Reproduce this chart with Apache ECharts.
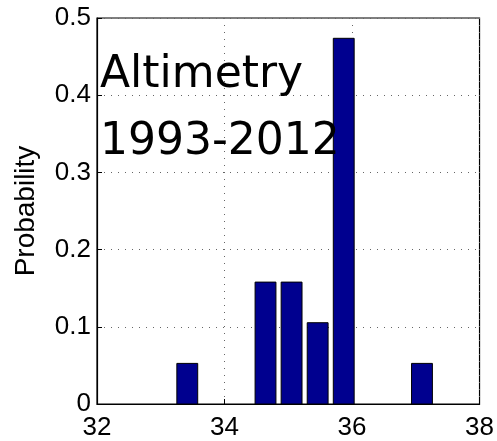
<!DOCTYPE html>
<html>
<head>
<meta charset="utf-8">
<script src="https://cdn.jsdelivr.net/npm/echarts@6/dist/echarts.min.js"></script>
<style>html,body{margin:0;padding:0;background:#fff}#c{width:497px;height:441px}</style>
</head>
<body>
<div id="c"></div>
<script>
// Data
var binCenters = [33.416, 33.825, 34.234, 34.643, 35.052, 35.461, 35.870, 36.279, 36.688, 37.097];
var probabilities = [0.0526, 0, 0, 0.1579, 0.1579, 0.1053, 0.4737, 0, 0, 0.0526];
var xTicks = [32, 34, 36, 38];
var yTicks = [0, 0.1, 0.2, 0.3, 0.4, 0.5];
var annotation = ['Altimetry', '1993-2012'];
var yLabel = 'Probability';

var binWidth = binCenters[1] - binCenters[0];
var barFrac = 0.8;

var chart = echarts.init(document.getElementById('c'));
var data = binCenters.map(function (x, i) { return [x, probabilities[i]]; }).filter(function(d){return d[1] > 0;});

chart.setOption({
  animation: false,
  backgroundColor: '#fff',
  title: {
    text: annotation.join('\n'),
    left: 100, top: 42, padding: 0,
    textStyle: { fontFamily: 'DejaVu Sans', fontSize: 44, fontWeight: 'normal', color: '#000', lineHeight: 67 }
  },
  grid: { left: 97, top: 18, width: 387, height: 387, show: true, borderColor: '#000', borderWidth: 1.2, backgroundColor: 'transparent' },
  xAxis: {
    type: 'value', min: xTicks[0], max: xTicks[xTicks.length - 1], interval: 2,
    axisLine: { show: true, lineStyle: { color: '#000', width: 1.2 } },
    axisTick: { show: true, inside: true, length: 5, lineStyle: { color: '#000' } },
    axisLabel: { color: '#000', fontSize: 26, fontFamily: 'Liberation Sans', margin: 11,
      formatter: function (v) { return String(v); } },
    splitLine: { show: true, lineStyle: { color: '#666', type: [1, 6], width: 1 } }
  },
  yAxis: {
    type: 'value', min: yTicks[0], max: yTicks[yTicks.length - 1], interval: 0.1,
    name: yLabel, nameLocation: 'middle', nameGap: 57, nameRotate: 90,
    nameTextStyle: { color: '#000', fontSize: 28, fontFamily: 'Liberation Sans' },
    axisLine: { show: true, lineStyle: { color: '#000', width: 1.2 } },
    axisTick: { show: true, inside: true, length: 5, lineStyle: { color: '#000' } },
    axisLabel: { color: '#000', fontSize: 26, fontFamily: 'Liberation Sans', margin: 6,
      formatter: function (v) { return String(Math.round(v * 10) / 10); } },
    splitLine: { show: true, lineStyle: { color: '#666', type: [1, 6], width: 1 } }
  },
  series: [{
    type: 'custom',
    data: data,
    renderItem: function (params, api) {
      var x = api.value(0), y = api.value(1);
      var hw = binWidth * barFrac / 2;
      var p1 = api.coord([x - hw, y]);
      var p2 = api.coord([x + hw, 0]);
      return {
        type: 'rect',
        shape: { x: p1[0], y: p1[1], width: p2[0] - p1[0], height: p2[1] - p1[1] },
        style: { fill: '#00008F', stroke: '#000', lineWidth: 1 }
      };
    }
  }]
});
</script>
</body>
</html>
